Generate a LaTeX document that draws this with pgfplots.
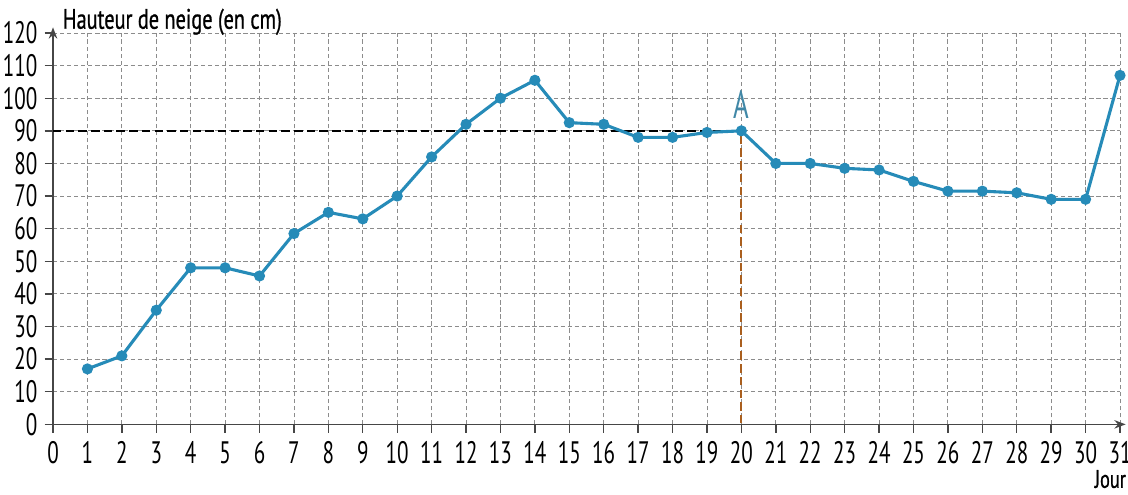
\documentclass[border=0pt]{standalone}
\usepackage{fontspec}
\setmainfont{PT Sans}[FakeStretch=0.68]
\newfontfamily\titrefont{PT Sans}[FakeStretch=0.72, FakeBold=0.8]
\usepackage{pgfplots}
\pgfplotsset{compat=1.18}
\usetikzlibrary{arrows.meta}
\definecolor{neige}{RGB}{38,139,184}
\definecolor{axe}{RGB}{70,70,70}
\definecolor{guide}{RGB}{140,140,140}
\definecolor{repere}{RGB}{170,95,30}
\begin{document}
\begin{tikzpicture}
\begin{axis}[
  scale only axis, width=378.4pt, height=138.8pt,
  xmin=0, xmax=31, ymin=0, ymax=120,
  axis lines=left,
  axis line style={axe, line width=0.6pt, -{Stealth[length=4pt,width=3pt]}, shorten >=-2pt},
  xtick={0,...,31}, ytick={0,10,...,120},
  tick align=outside, major tick length=3pt,
  tick style={axe, line width=0.5pt},
  grid=major,
  major grid style={guide, dash pattern=on 1.5pt off 1pt, line width=0.3pt},
  tick label style={font=\fontsize{11}{12}\selectfont, /pgf/number format/assume math mode=true},
  yticklabel style={xshift=1pt},
  xticklabel style={yshift=0.5pt},
  clip=false,
]
% repères du point A
\addplot[black, dash pattern=on 3pt off 1.5pt, line width=0.5pt] coordinates {(0,90) (20,90)};
\addplot[repere, dash pattern=on 3pt off 1.5pt, line width=0.7pt] coordinates {(20,0.3) (20,90)};

\addplot[neige, line width=1.1pt, mark=*, mark size=1.4pt, mark options={fill=neige}] coordinates {
  (1,17) (2,21) (3,35) (4,48) (5,48) (6,45.5) (7,58.5) (8,65) (9,63) (10,70)
  (11,82) (12,92) (13,100) (14,105.5) (15,92.5) (16,92) (17,88) (18,88) (19,89.5) (20,90)
  (21,80) (22,80) (23,78.5) (24,78) (25,74.5) (26,71.5) (27,71.5) (28,71) (29,69) (30,69)
  (31,107)
};

\node[anchor=base west, font=\titrefont\fontsize{10}{12}\selectfont] at ([yshift=1.5pt]rel axis cs:0,1) {Hauteur de neige (en cm)};
\node[anchor=north east, inner sep=0pt, font=\titrefont\fontsize{9}{10}\selectfont] at ([xshift=2.3pt, yshift=-16pt]rel axis cs:1,0) {Jour};
\node[anchor=south, text=neige!70!gray, font=\fontsize{14}{14}\selectfont, inner sep=0pt] at ([yshift=4pt]axis cs:20,90) {A};
\coordinate (bl) at (rel axis cs:0,0);
\coordinate (tr) at (rel axis cs:1,1);
\end{axis}
\pgfresetboundingbox
\useasboundingbox ([xshift=-18.8pt, yshift=-25pt]bl) rectangle ([xshift=2.84pt, yshift=11.7pt]tr);
\end{tikzpicture}
\end{document}
